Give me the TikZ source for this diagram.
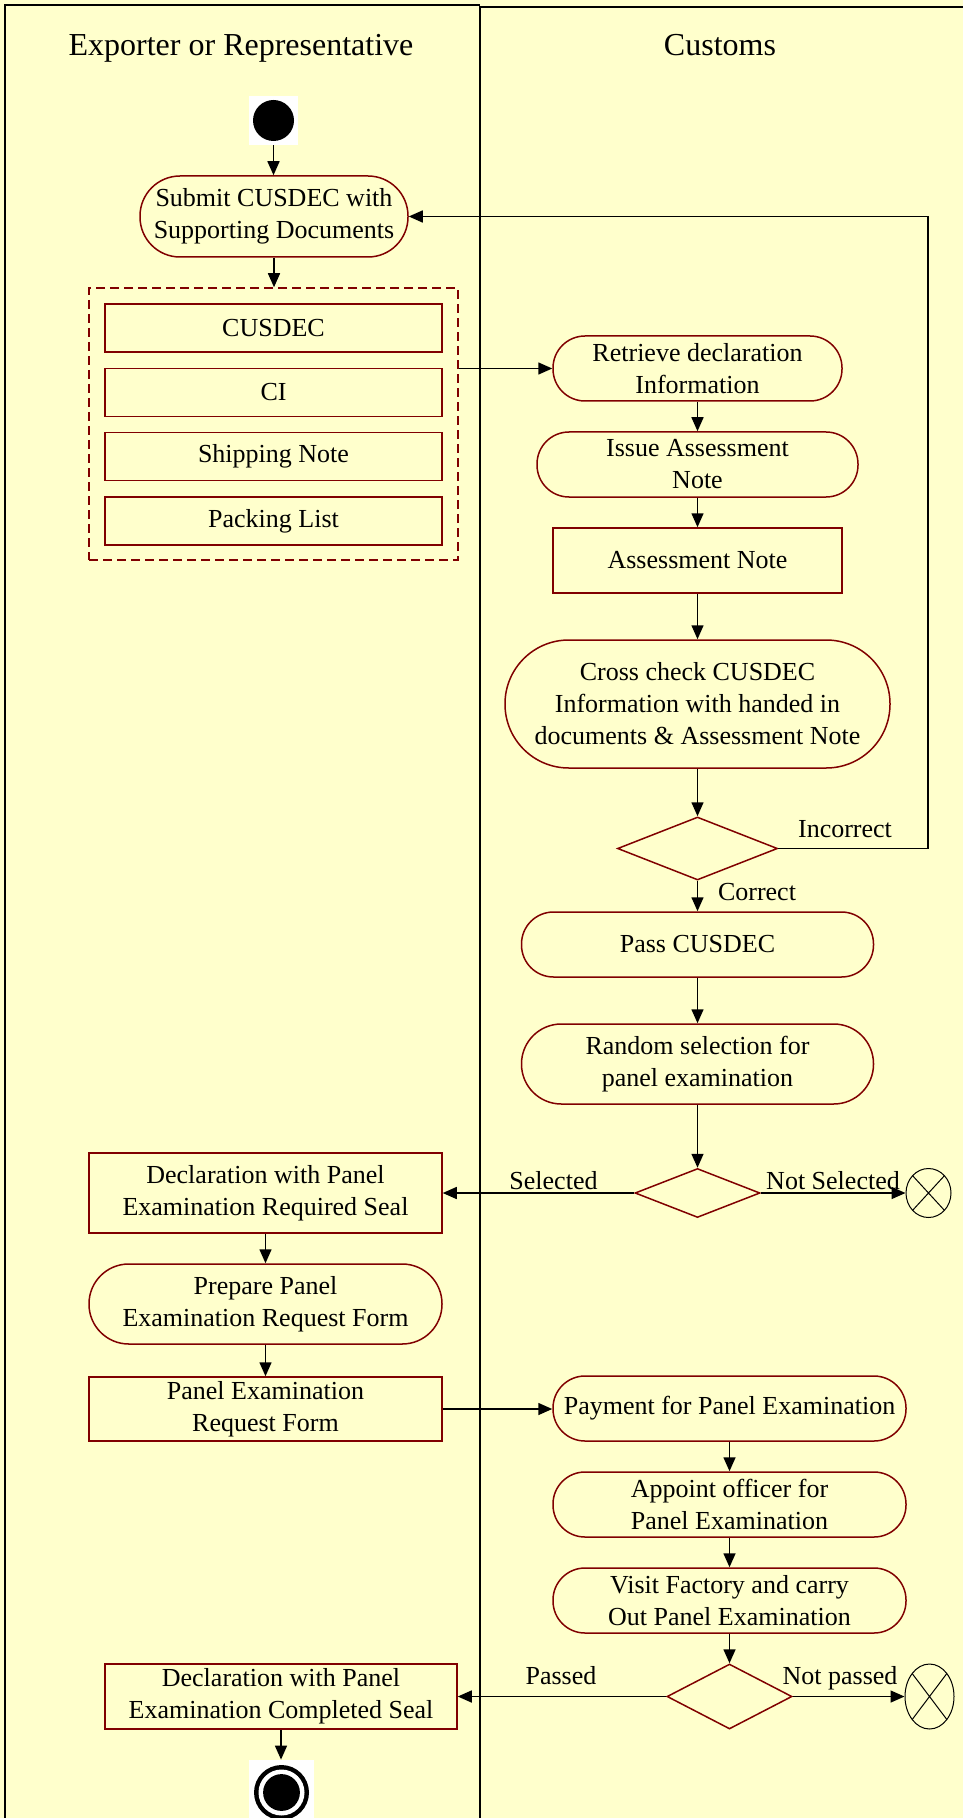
\documentclass[tikz,border=0pt]{standalone}
\usepackage{fontspec}
\setmainfont{Liberation Serif}
\usetikzlibrary{positioning, arrows.meta, shapes.geometric}
\definecolor{laneyellow}{RGB}{255,255,204}
\definecolor{actred}{RGB}{128,0,0}
\newcommand{\flowfont}{\fontsize{13}{16}\selectfont}
\newcommand{\lanefont}{\fontsize{16}{19}\selectfont}
\tikzset{
  arr/.style={-{Triangle[length=7pt,width=6pt]}, line width=0.75pt},
  lane/.style={line width=1pt},
  actnode/.style={draw=actred, line width=0.75pt, rectangle, rounded corners=#1, inner sep=0pt, align=center, font=\flowfont},
  actnode/.default=16pt,
  docnode/.style={draw=actred, line width=0.75pt, rectangle, inner sep=0pt, align=center, font=\flowfont},
  decision/.style={draw=actred, line width=0.75pt, diamond, inner sep=0pt},
  flowfinal/.style={draw, line width=0.5pt, ellipse, inner sep=0pt,
    path picture={\draw[line width=0.5pt] (path picture bounding box.north west) -- (path picture bounding box.south east)
      (path picture bounding box.north east) -- (path picture bounding box.south west);}},
  guard/.style={inner sep=0pt, anchor=base, font=\flowfont},
}

\begin{document}
\begin{tikzpicture}[x=0.5pt, y=-0.5pt]
\path[use as bounding box, fill=laneyellow] (0,0) rectangle (963,1818);

% swimlanes
\draw[lane] (5,1818) -- (5,5) -- (480,5);
\draw[lane] (480,1818) -- (480,7) -- (963,7);
\node[guard, font=\lanefont] (exporter) at (241,56) {Exporter or Representative};
\node[guard, font=\lanefont] (customs) at (720,56) {Customs};

% exporter lane
\node[fill=white, minimum size=24.5pt, inner sep=0pt,
      path picture={\fill[black] (path picture bounding box.center) circle (10.25pt);}] (start) at (273.5,120.5) {};
\node[actnode=20pt, minimum width=134pt, minimum height=40.5pt] (submit) at (274,216.5)
  {Submit CUSDEC with\\Supporting Documents};
\node[draw=actred, line width=0.75pt, dash pattern=on 4.5pt off 2.5pt, minimum width=184.5pt, minimum height=136pt] (docs) at (273.5,424) {};
\foreach \name/\txt/\y in {cusdec/CUSDEC/328, ci/CI/392.5, ship/Shipping Note/456.5, pack/Packing List/521}
  \node[docnode, minimum width=168.5pt, minimum height=24pt] (\name) at (273.5,\y) {\txt};

\node[docnode, minimum width=176.5pt, minimum height=40pt] (reqseal) at (265.5,1193)
  {Declaration with Panel\\Examination Required Seal};
\node[actnode=19.9pt, minimum width=176.5pt, minimum height=40pt] (prepare) at (265.5,1304)
  {Prepare Panel\\Examination Request Form};
\node[docnode, minimum width=176.5pt, minimum height=32pt] (reqform) at (265.5,1409)
  {Panel Examination\\Request Form};
\node[docnode, minimum width=176pt, minimum height=32.5pt] (doneseal) at (281,1696.5)
  {Declaration with Panel\\Examination Completed Seal};
\node[fill=white, minimum size=32.5pt, inner sep=0pt,
      path picture={\fill[black] (path picture bounding box.center) circle (13.75pt);
        \fill[white] (path picture bounding box.center) circle (11.5pt);
        \fill[black] (path picture bounding box.center) circle (9.2pt);}] (finish) at (281.5,1792.5) {};

% customs lane
\node[actnode, minimum width=144.5pt, minimum height=32.5pt] (retrieve) at (697.5,368.5)
  {Retrieve declaration\\Information};
\node[actnode, minimum width=160.5pt, minimum height=32.5pt] (issue) at (697.5,464.5)
  {Issue Assessment\\Note};
\node[docnode, minimum width=144.5pt, minimum height=32.5pt] (assess) at (697.5,560.5) {Assessment Note};
\node[actnode=31.9pt, minimum width=192.5pt, minimum height=64pt] (crosscheck) at (697.5,704)
  {Cross check CUSDEC\\Information with handed in\\documents \& Assessment Note};
\node[decision, minimum width=80pt, minimum height=31.5pt] (check) at (697.5,848.5) {};
\node[actnode, minimum width=176pt, minimum height=32.5pt] (pass) at (697.5,944.5) {Pass CUSDEC};
\node[actnode=19.9pt, minimum width=176pt, minimum height=40pt] (random) at (697.5,1064)
  {Random selection for\\panel examination};
\node[decision, minimum width=62.5pt, minimum height=24.5pt] (select) at (697.5,1193) {};
\node[flowfinal, minimum width=22.5pt, minimum height=24.5pt] (notsel) at (928.5,1193) {};
\node[actnode, minimum width=176.5pt, minimum height=32.5pt] (payment) at (729.5,1408.5)
  {Payment for Panel Examination};
\node[actnode, minimum width=176.5pt, minimum height=32.5pt] (appoint) at (729.5,1504.5)
  {Appoint officer for\\Panel Examination};
\node[actnode, minimum width=176.5pt, minimum height=32.5pt] (visit) at (729.5,1600.5)
  {Visit Factory and carry\\Out Panel Examination};
\node[decision, minimum width=62.5pt, minimum height=32.5pt] (result) at (729.5,1696.5) {};
\node[flowfinal, minimum width=24.5pt, minimum height=32.5pt] (notpass) at (929.5,1696.5) {};

% guards
\node[guard] (incorrect) at (845,837) {Incorrect};
\node[guard] (correct) at (757,900) {Correct};
\node[guard] (selected) at (553.5,1189) {Selected};
\node[guard] (notselected) at (833,1189) {Not Selected};
\node[guard] (passed) at (561,1684) {Passed};
\node[guard] (notpassed) at (840,1684) {Not passed};

% flows
\coordinate (back) at (928,216.5);
\draw[arr] (start.south) -- (start.south |- submit.north);
\draw[arr] (submit.south) -- (submit.south |- docs.north);
\draw[arr] (retrieve.west -| docs.east) -- (retrieve.west);
\draw[arr] (retrieve) -- (issue);
\draw[arr] (issue) -- (assess);
\draw[arr] (assess) -- (crosscheck);
\draw[arr] (crosscheck) -- (check);
\draw[arr] (check.east) -| (back) -- (submit.east);
\draw[arr] (check) -- (pass);
\draw[arr] (pass) -- (random);
\draw[arr] (random) -- (select);
\draw[arr] (select.west) -- (select.west -| reqseal.east);
\draw[arr] (select.east) -- (notsel.west);
\draw[arr] (reqseal) -- (prepare);
\draw[arr] (prepare) -- (reqform);
\draw[arr] (reqform.east) -- (reqform.east -| payment.west);
\draw[arr] (payment) -- (appoint);
\draw[arr] (appoint) -- (visit);
\draw[arr] (visit) -- (result);
\draw[arr] (result.west) -- (result.west -| doneseal.east);
\draw[arr] (result.east) -- (notpass.west);
\draw[arr] (doneseal.south) -- (doneseal.south |- finish.north);
\end{tikzpicture}
\end{document}
